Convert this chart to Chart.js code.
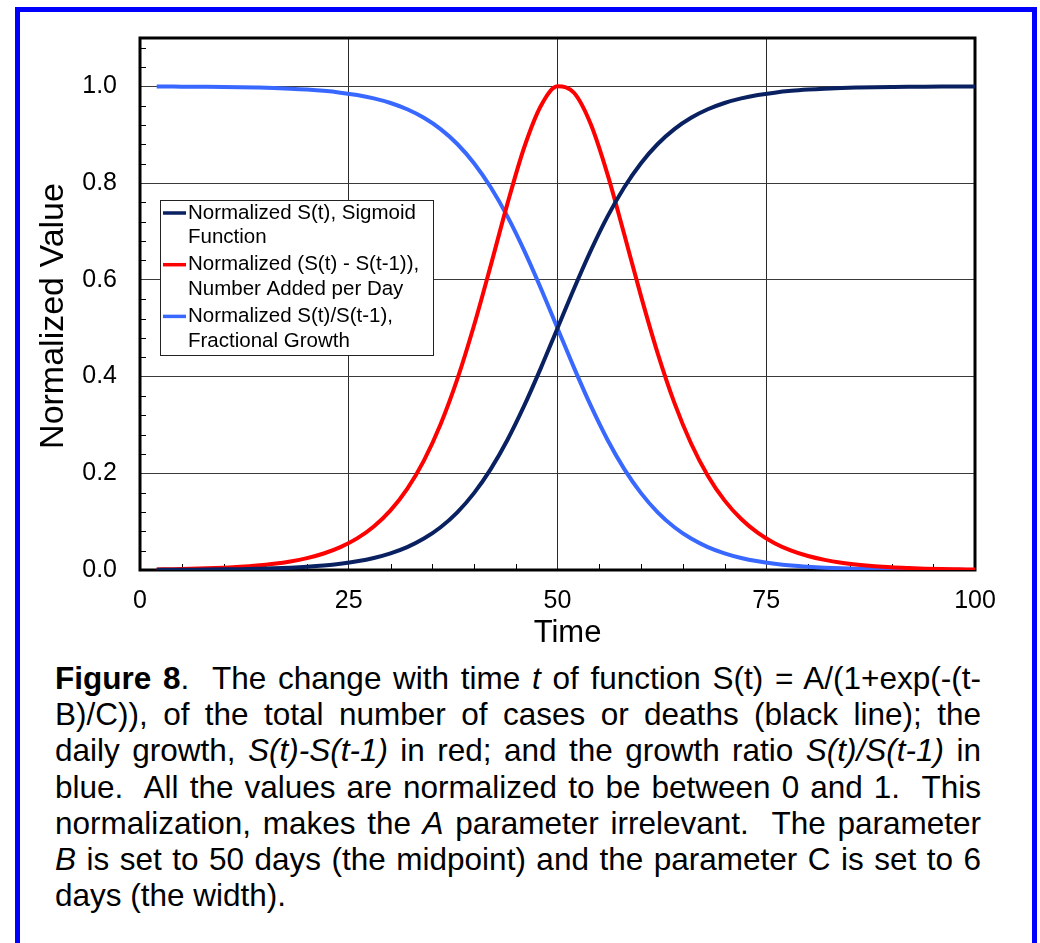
<!DOCTYPE html>
<html>
<head>
<meta charset="utf-8">
<script src="https://cdn.jsdelivr.net/npm/chart.js@4.4.0/dist/chart.umd.min.js"></script>
<style>
  html, body { margin: 0; padding: 0; background: #fff; }
  body { width: 1040px; height: 943px; overflow: hidden; position: relative;
         font-family: "Liberation Sans", Arial, Helvetica, sans-serif; }
  #frame { position: absolute; left: 15px; top: 7px; width: 1012px; height: 960px;
           border: 5px solid #0000ff; border-bottom: none; }
  #plot { position: absolute; left: 0; top: 0; }
  #caption { position: absolute; left: 55px; top: 660px; width: 926px;
             font-size: 31.5px; line-height: 36.2px; color: #000; }
  #caption div { text-align: justify; text-align-last: justify; white-space: nowrap; }
  #caption div.end { text-align-last: left; }
</style>
</head>
<body>
<div id="frame"></div>
<canvas id="plot" width="1040" height="660"></canvas>
<div id="caption">
  <div><b>Figure 8</b>.&nbsp; The change with time <i>t</i> of function S(t) = A/(1+exp(-(t-</div>
  <div>B)/C)), of the total number of cases or deaths (black line); the</div>
  <div>daily growth, <i>S(t)-S(t-1)</i> in red; and the growth ratio <i>S(t)/S(t-1)</i> in</div>
  <div>blue.&nbsp; All the values are normalized to be between 0 and 1.&nbsp; This</div>
  <div>normalization, makes the <i>A</i> parameter irrelevant.&nbsp; The parameter</div>
  <div><i>B</i> is set to 50 days (the midpoint) and the parameter C is set to 6</div>
  <div class="end">days (the width).</div>
</div>
<script>
// time in days
const days = [2, 4, 6, 8, 10, 12, 14, 16, 18, 20, 22, 24, 26, 28, 30, 32, 34, 36, 38, 40,
  42, 44, 46, 48, 50, 52, 54, 56, 58, 60, 62, 64, 66, 68, 70, 72, 74, 76, 78, 80,
  82, 84, 86, 88, 90, 92, 94, 96, 98, 100];

// normalized S(t)
const sigmoid = [0.0003, 0.0005, 0.0007, 0.0009, 0.0013, 0.0018, 0.0025, 0.0034, 0.0048, 0.0067,
  0.0093, 0.0130, 0.0180, 0.0249, 0.0345, 0.0474, 0.0650, 0.0884, 0.1192, 0.1589,
  0.2086, 0.2689, 0.3392, 0.4174, 0.5000, 0.5826, 0.6608, 0.7311, 0.7914, 0.8411,
  0.8808, 0.9116, 0.9350, 0.9526, 0.9656, 0.9751, 0.9820, 0.9870, 0.9907, 0.9933,
  0.9952, 0.9966, 0.9975, 0.9982, 0.9987, 0.9991, 0.9993, 0.9995, 0.9997, 0.9998];

// normalized S(t) - S(t-1)
const addedPerDay = [0.0012, 0.0017, 0.0024, 0.0034, 0.0047, 0.0065, 0.0091, 0.0127, 0.0176, 0.0245,
  0.0341, 0.0472, 0.0653, 0.0900, 0.1233, 0.1678, 0.2263, 0.3013, 0.3945, 0.5055,
  0.6294, 0.7570, 0.8731, 0.9594, 1.0000, 0.9862, 0.9211, 0.8176, 0.6936, 0.5663,
  0.4480, 0.3456, 0.2616, 0.1951, 0.1439, 0.1054, 0.0767, 0.0555, 0.0401, 0.0289,
  0.0209, 0.0150, 0.0108, 0.0077, 0.0055, 0.0040, 0.0028, 0.0020, 0.0015, 0.0010];

// normalized S(t)/S(t-1)
const growthRatio = [0.9997, 0.9995, 0.9993, 0.9991, 0.9987, 0.9982, 0.9975, 0.9966, 0.9952, 0.9933,
  0.9907, 0.9870, 0.9820, 0.9751, 0.9656, 0.9526, 0.9350, 0.9116, 0.8808, 0.8411,
  0.7914, 0.7311, 0.6608, 0.5826, 0.5000, 0.4174, 0.3392, 0.2689, 0.2086, 0.1589,
  0.1192, 0.0884, 0.0650, 0.0474, 0.0345, 0.0249, 0.0180, 0.0130, 0.0093, 0.0067,
  0.0048, 0.0034, 0.0025, 0.0018, 0.0013, 0.0009, 0.0007, 0.0005, 0.0003, 0.0002];

const xTicks = [0, 25, 50, 75, 100];
const yTicks = [0, 0.2, 0.4, 0.6, 0.8, 1.0];

const legendLines = [
  ["Normalized S(t), Sigmoid", "Function"],
  ["Normalized (S(t) - S(t-1)),", "Number Added per Day"],
  ["Normalized S(t)/S(t-1),", "Fractional Growth"]
];

const FONT = '"Liberation Sans", Arial, Helvetica, sans-serif';

function pairs(ys) {
  return days.map((t, i) => ({ x: t, y: ys[i] }));
}

// frame, minor ticks, axis titles and the boxed legend
const decorations = {
  id: "decorations",
  beforeDatasetsDraw(chart) {
    const { ctx, chartArea: a, scales: { x, y } } = chart;
    ctx.save();
    ctx.strokeStyle = "#000";
    ctx.lineWidth = 1;
    ctx.beginPath();
    for (let v = 5; v < 100; v += 5) {
      if (v % 25 === 0) continue;
      const px = Math.round(x.getPixelForValue(v)) + 0.5;
      ctx.moveTo(px, a.bottom);
      ctx.lineTo(px, a.bottom - 6);
    }
    for (let k = 1; k < 28; k++) {
      if (k % 5 === 0) continue;
      const py = Math.round(y.getPixelForValue(k * 0.04)) + 0.5;
      ctx.moveTo(a.left, py);
      ctx.lineTo(a.left + 6, py);
    }
    ctx.stroke();
    ctx.lineWidth = 3;
    ctx.strokeRect(a.left, a.top, a.right - a.left, a.bottom - a.top);
    ctx.restore();
  },
  afterDraw(chart) {
    const { ctx, chartArea: a } = chart;
    ctx.save();
    ctx.fillStyle = "#000";
    ctx.textAlign = "center";
    ctx.textBaseline = "middle";

    ctx.font = "31px " + FONT;
    ctx.fillText("Time", (a.left + a.right) / 2 + 10, 633);

    ctx.font = "34px " + FONT;
    ctx.translate(54, (a.top + a.bottom) / 2 + 12);
    ctx.rotate(-Math.PI / 2);
    ctx.fillText("Normalized Value", 0, 0);
    ctx.restore();

    // legend box
    const bx = a.left + 20, by = a.top + 162, bw = 273, bh = 155;
    ctx.save();
    ctx.fillStyle = "#fff";
    ctx.fillRect(bx, by, bw, bh);
    ctx.strokeStyle = "#222";
    ctx.lineWidth = 1;
    ctx.strokeRect(bx + 0.5, by + 0.5, bw, bh);
    ctx.font = "20.5px " + FONT;
    ctx.textBaseline = "middle";
    ctx.textAlign = "left";
    chart.data.datasets.forEach((ds, i) => {
      const ly = by + 13 + i * 51.7;
      ctx.strokeStyle = ds.borderColor;
      ctx.lineWidth = 3.5;
      ctx.beginPath();
      ctx.moveTo(bx + 3, ly);
      ctx.lineTo(bx + 26, ly);
      ctx.stroke();
      ctx.fillStyle = "#000";
      legendLines[i].forEach((line, j) => {
        ctx.fillText(line, bx + 28, ly + j * 24.5);
      });
    });
    ctx.restore();
  }
};

new Chart(document.getElementById("plot"), {
  type: "line",
  data: {
    datasets: [
      {
        label: legendLines[0].join(" "),
        data: pairs(sigmoid),
        borderColor: "#0a2161",
      },
      {
        label: legendLines[1].join(" "),
        data: pairs(addedPerDay),
        borderColor: "#ff0000",
      },
      {
        label: legendLines[2].join(" "),
        data: pairs(growthRatio),
        borderColor: "#3868ff",
      },
    ],
  },
  options: {
    responsive: false,
    animation: false,
    layout: { padding: { top: 35, right: 65, left: 0, bottom: 0 } },
    elements: {
      point: { radius: 0 },
      line: { borderWidth: 4, cubicInterpolationMode: "monotone", fill: false },
    },
    plugins: {
      legend: { display: false },
      tooltip: { enabled: false },
    },
    scales: {
      x: {
        type: "linear",
        min: 0,
        max: 100,
        afterBuildTicks: (s) => { s.ticks = xTicks.map((v) => ({ value: v })); },
        afterFit: (s) => { s.height = 90; },
        border: { display: false },
        grid: { color: "#2a2a2a", lineWidth: 1, drawTicks: false },
        ticks: { color: "#000", padding: 16, font: { family: FONT, size: 25 } },
      },
      y: {
        type: "linear",
        min: 0,
        max: 1.1,
        afterBuildTicks: (s) => { s.ticks = yTicks.map((v) => ({ value: v })); },
        afterFit: (s) => { s.width = 140; },
        border: { display: false },
        grid: { color: "#3a3a3a", lineWidth: 1, drawTicks: false },
        ticks: {
          color: "#000",
          padding: 23,
          font: { family: FONT, size: 25 },
          callback: (v) => v.toFixed(1),
        },
      },
    },
  },
  plugins: [decorations],
});
</script>
</body>
</html>
